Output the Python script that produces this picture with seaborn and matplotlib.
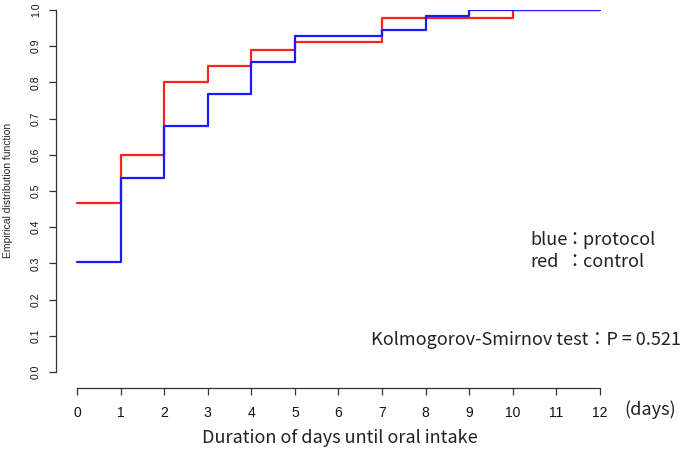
import matplotlib
matplotlib.use("Agg")
import matplotlib.pyplot as plt
import seaborn as sns
import pandas as pd

days = [0, 1, 2, 3, 4, 5, 7, 8, 9, 10, 12]
control = [0.467, 0.600, 0.800, 0.846, 0.889, 0.912, 0.978, 0.978, 0.978, 1.000, 1.000]
protocol = [0.304, 0.536, 0.680, 0.768, 0.857, 0.928, 0.946, 0.983, 1.000, 1.000, 1.000]
x_ticks = list(range(0, 13))
y_ticks = [0.0, 0.1, 0.2, 0.3, 0.4, 0.5, 0.6, 0.7, 0.8, 0.9, 1.0]

df = pd.DataFrame({
    "day": days + days,
    "ecdf": control + protocol,
    "group": ["control"] * len(days) + ["protocol"] * len(days),
})

sns.set_style("white")
plt.rcParams['font.family'] = ['Liberation Sans', 'DejaVu Sans']

fig = plt.figure(figsize=(6.82, 4.49), dpi=100)
W, H = 682, 449
ax = fig.add_axes([56 / W, (449 - 372) / H, (620 - 56) / W, 362 / H])

sns.lineplot(data=df, x="day", y="ecdf", hue="group",
             hue_order=["control", "protocol"],
             palette={"control": "#ff2020", "protocol": "#1a1aff"},
             drawstyle="steps-post", estimator=None, linewidth=1.6,
             legend=False, ax=ax)

ax.set_xlim(-0.48, 12.46)
ax.set_ylim(0, 1)
ax.set_xticks(x_ticks)
ax.set_yticks(y_ticks)
ax.set_xticklabels([str(t) for t in x_ticks], fontsize=7)
ax.set_yticklabels([f"{t:.1f}" for t in y_ticks], fontsize=7.5, rotation=90, va="center")
ax.set_xlabel("")
ax.set_ylabel("")

for s in ["top", "right"]:
    ax.spines[s].set_visible(False)
ax.spines["bottom"].set_position(("outward", 11.5))
ax.spines["bottom"].set_bounds(0, 12)
ax.spines["left"].set_bounds(0, 1)
for s in ["bottom", "left"]:
    ax.spines[s].set_color("#333333")
    ax.spines[s].set_linewidth(0.9)
ax.tick_params(axis="both", direction="out", length=5, width=0.9, color="#333333",
               labelcolor="#111111", bottom=True, left=True)
ax.tick_params(axis="x", pad=8)
ax.tick_params(axis="y", pad=6)

jp = ['Noto Sans CJK JP', 'DejaVu Sans']
fs = 13
fig.text(8 / W, 1 - 190 / H, "Empirical distribution function", rotation=90,
         ha="center", va="center", fontsize=7.5)
fig.text(340 / W, 1 - 438 / H, "Duration of days until oral intake",
         ha="center", va="center", fontsize=fs, family=jp, color="#222222")
fig.text(624 / W, 1 - 410 / H, "(days)", ha="left", va="center", fontsize=fs,
         family=jp, color="#222222")
fig.text(530 / W, 1 - 240 / H, "blue", ha="left", va="center",
         fontsize=fs, family=jp, color="#222222")
fig.text(530 / W, 1 - 262 / H, "red", ha="left", va="center",
         fontsize=fs, family=jp, color="#222222")
fig.text(565 / W, 1 - 240 / H, "：protocol", ha="left", va="center",
         fontsize=fs, family=jp, color="#222222")
fig.text(565 / W, 1 - 262 / H, "：control", ha="left", va="center",
         fontsize=fs, family=jp, color="#222222")
fig.text(681 / W, 1 - 340 / H, "Kolmogorov-Smirnov test：P = 0.521", ha="right",
         va="center", fontsize=fs, family=jp, color="#222222")

fig.savefig("out.png", dpi=100)
